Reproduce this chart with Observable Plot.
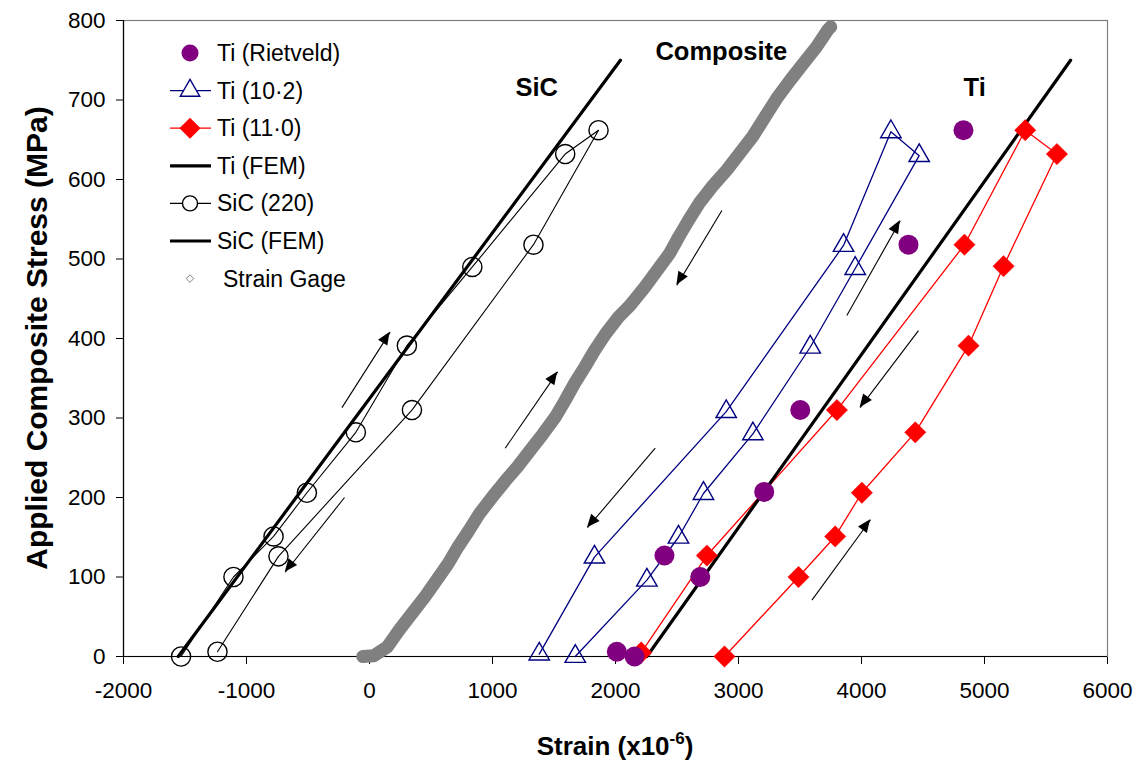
<!DOCTYPE html>
<html>
<head>
<meta charset="utf-8">
<script src="https://cdn.jsdelivr.net/npm/d3@7"></script>
<script src="https://cdn.jsdelivr.net/npm/@observablehq/plot@0.6"></script>
<style>
  body { margin: 0; background: #fff; }
  #chart { position: relative; width: 1137px; height: 761px; }
</style>
</head>
<body>
<div id="chart"></div>
<script>
// ---------- data ----------
const xTicks = [-2000, -1000, 0, 1000, 2000, 3000, 4000, 5000, 6000];
const yTicks = [0, 100, 200, 300, 400, 500, 600, 700, 800];

const tiRietveldX = [2011, 2155, 2398, 2689, 3209, 3502, 4382, 4829];
const tiRietveldY = [6, 0, 127, 100, 207, 310, 518, 662];

const ti102X = [1673, 2255, 2512, 2715, 3117, 3583, 3949, 4469, 4239, 3854, 2900, 1829, 1380];
const ti102Y = [0, 96, 150, 205, 280, 389, 488, 630, 660, 517, 308, 125, 3];

const ti110X = [2886, 3488, 3786, 4003, 4437, 4870, 5155, 5589, 5331, 4837, 3800, 2743, 2209];
const ti110Y = [0, 100, 151, 206, 282, 391, 491, 632, 662, 518, 310, 127, 5];

const tiFemX = [2255, 5700];
const tiFemY = [0, 750];

const sic220X = [-1532, -1106, -780, -509, -111, 304, 836, 1591, 1862, 1333, 345, -740, -1236];
const sic220Y = [0, 100, 151, 206, 282, 391, 490, 632, 662, 518, 310, 126, 6];

const sicFemX = [-1555, 2040];
const sicFemY = [0, 750];

const gageX = [-55, 35, 144, 240, 345, 450, 545, 640, 720, 810, 895, 1000, 1110, 1200, 1310, 1410, 1510, 1590, 1665, 1750, 1830, 1920, 2025, 2120, 2240, 2340, 2440, 2515, 2595, 2680, 2785, 2905, 3010, 3115, 3233, 3320, 3421, 3527, 3635, 3725, 3750];
const gageY = [0, 1, 12, 33, 54, 75, 96, 117, 138, 159, 180, 201, 222, 238, 260, 280, 301, 322, 343, 364, 385, 406, 427, 442, 465, 486, 507, 528, 549, 570, 591, 612, 633, 654, 683, 704, 725, 746, 767, 788, 792];

const arrowX1 = [-224, -203, 1103, 2865, 2323, 3881, 4463, 3597];
const arrowY1 = [313, 200, 262, 561, 262, 429, 410, 71];
const arrowX2 = [168, -685, 1530, 2499, 1772, 4315, 3989, 4074];
const arrowY2 = [408, 106, 358, 467, 162, 548, 313, 172];

const labelText = ["SiC", "Composite", "Ti"];
const labelX = [1360, 2860, 4920];
const labelY = [715, 760, 715];

const legendNames = ["Ti (Rietveld)", "Ti (10·2)", "Ti (11·0)", "Ti (FEM)", "SiC (220)", "SiC (FEM)", "Strain Gage"];

// ---------- tables ----------
const zip = (xs, ys) => xs.map((x, i) => ({x, y: ys[i]}));
const tiRietveld = zip(tiRietveldX, tiRietveldY);
const ti102 = zip(ti102X, ti102Y);
const ti110 = zip(ti110X, ti110Y);
const tiFem = zip(tiFemX, tiFemY);
const sic220 = zip(sic220X, sic220Y);
const sicFem = zip(sicFemX, sicFemY);
const gage = zip(gageX, gageY);
const arrows = arrowX1.map((x1, i) => ({x1, y1: arrowY1[i], x2: arrowX2[i], y2: arrowY2[i]}));
const labels = labelText.map((t, i) => ({t, x: labelX[i], y: labelY[i]}));

const PURPLE = "#800080", NAVY = "#000080", RED = "#ff0000", GRAY = "#808080";
const FONT = "Arial, 'Liberation Sans', sans-serif";

const W = 1137, H = 761, ML = 123, MR = 30, MT = 20, MB = 105;

const plot = Plot.plot({
  width: W, height: H,
  marginLeft: ML, marginRight: MR, marginTop: MT, marginBottom: MB,
  style: {fontFamily: FONT, fontSize: "22.5px", background: "white", color: "black", overflow: "visible"},
  x: {domain: [-2000, 6000], ticks: xTicks, tickFormat: d => String(d), label: null, tickSize: 8, tickPadding: 18},
  y: {domain: [0, 800], ticks: yTicks, tickFormat: d => String(d), label: null, tickSize: 7, tickPadding: 11},
  marks: [
    Plot.frame({stroke: GRAY, strokeWidth: 1.2}),
    Plot.ruleX([-2000], {stroke: "black", strokeWidth: 1.2}),
    Plot.ruleY([0], {stroke: "black", strokeWidth: 1.2}),
    // strain gage band
    Plot.line(gage, {x: "x", y: "y", stroke: GRAY, strokeWidth: 13, strokeLinejoin: "round", strokeLinecap: "round"}),
    // arrows (shafts)
    Plot.link(arrows, {x1: "x1", y1: "y1", x2: "x2", y2: "y2", stroke: "black", strokeWidth: 1.1}),
    // series lines
    Plot.line(sic220, {x: "x", y: "y", stroke: "black", strokeWidth: 1.1}),
    Plot.line(ti102, {x: "x", y: "y", stroke: NAVY, strokeWidth: 1.3}),
    Plot.line(ti110, {x: "x", y: "y", stroke: RED, strokeWidth: 1.3}),
    Plot.line(sicFem, {x: "x", y: "y", stroke: "black", strokeWidth: 3.2}),
    Plot.line(tiFem, {x: "x", y: "y", stroke: "black", strokeWidth: 3.2}),
    // markers
    Plot.dot(sic220, {x: "x", y: "y", r: 9.6, stroke: "black", strokeWidth: 1.4, fill: "none"}),
    Plot.dot(ti102, {x: "x", y: "y", symbol: "triangle", r: 7.6, stroke: NAVY, strokeWidth: 1.4, fill: "none"}),
    Plot.dot(ti110, {x: "x", y: "y", symbol: "diamond2", r: 9.6, fill: RED, stroke: RED, strokeWidth: 0.5}),
    Plot.dot(tiRietveld, {x: "x", y: "y", r: 10, fill: PURPLE}),
    // region labels
    Plot.text(labels, {x: "x", y: "y", text: "t", fontSize: 25.5, fontWeight: "bold", fill: "black", textAnchor: "middle", lineAnchor: "middle"})
  ]
});

document.getElementById("chart").appendChild(plot);

const svg = d3.select(plot);
const sx = plot.scale("x"), sy = plot.scale("y");

// arrow heads (filled), placed through the scales
const headG = svg.append("g").attr("fill", "black");
arrows.forEach(a => {
  const x1 = sx.apply(a.x1), y1 = sy.apply(a.y1), x2 = sx.apply(a.x2), y2 = sy.apply(a.y2);
  const ang = Math.atan2(y2 - y1, x2 - x1);
  const L = 13, Hw = 5.5;
  const c = Math.cos(ang), s = Math.sin(ang);
  const bx = x2 - L * c, by = y2 - L * s;
  headG.append("path").attr("d",
    `M${x2},${y2}L${bx + Hw * s},${by - Hw * c}L${bx - Hw * s},${by + Hw * c}Z`);
});

// axis titles
const cx = (ML + W - MR) / 2, cy = (MT + H - MB) / 2;
const xt = svg.append("text")
  .attr("x", cx).attr("y", 755)
  .attr("text-anchor", "middle")
  .attr("font-family", FONT).attr("font-weight", "bold").attr("font-size", 26)
  .attr("fill", "black");
xt.append("tspan").text("Strain (x10");
xt.append("tspan").attr("dy", -11).attr("font-size", 17).text("-6");
xt.append("tspan").attr("dy", 11).text(")");

svg.append("text")
  .attr("transform", `translate(47,${cy}) rotate(-90)`)
  .attr("text-anchor", "middle")
  .attr("font-family", FONT).attr("font-weight", "bold").attr("font-size", 30)
  .attr("fill", "black")
  .text("Applied Composite Stress (MPa)");

// legend (inside plot area, top-left)
const legendStyle = {
  "Ti (Rietveld)": {line: null, sym: d3.symbolCircle, r: 8.5, fill: PURPLE, stroke: "none"},
  "Ti (10·2)": {line: {c: NAVY, w: 1.3}, sym: d3.symbolTriangle, r: 7.2, fill: "white", stroke: NAVY},
  "Ti (11·0)": {line: {c: RED, w: 1.3}, sym: d3.symbolDiamond2, r: 8.6, fill: RED, stroke: RED},
  "Ti (FEM)": {line: {c: "black", w: 3.2}, sym: null},
  "SiC (220)": {line: {c: "black", w: 1.1}, sym: d3.symbolCircle, r: 7.5, fill: "white", stroke: "black"},
  "SiC (FEM)": {line: {c: "black", w: 3.2}, sym: null},
  "Strain Gage": {line: null, sym: d3.symbolDiamond2, r: 3.4, fill: "white", stroke: GRAY}
};
const lg = svg.append("g").attr("transform", "translate(190,53)");
legendNames.forEach((name, i) => {
  const st = legendStyle[name];
  const g = lg.append("g").attr("transform", `translate(0,${i * 37.6})`);
  if (st.line) g.append("line").attr("x1", -20).attr("x2", 21).attr("y1", 0).attr("y2", 0)
    .attr("stroke", st.line.c).attr("stroke-width", st.line.w);
  if (st.sym) g.append("path").attr("d", d3.symbol(st.sym, Math.PI * st.r * st.r)())
    .attr("fill", st.fill).attr("stroke", st.stroke).attr("stroke-width", st.line ? 1.4 : 1);
  g.append("text").attr("x", name === "Strain Gage" ? 33 : 27).attr("dy", "0.35em")
    .attr("text-anchor", "start")
    .attr("font-family", FONT).attr("font-size", 23).attr("fill", "black").text(name);
});
</script>
</body>
</html>
